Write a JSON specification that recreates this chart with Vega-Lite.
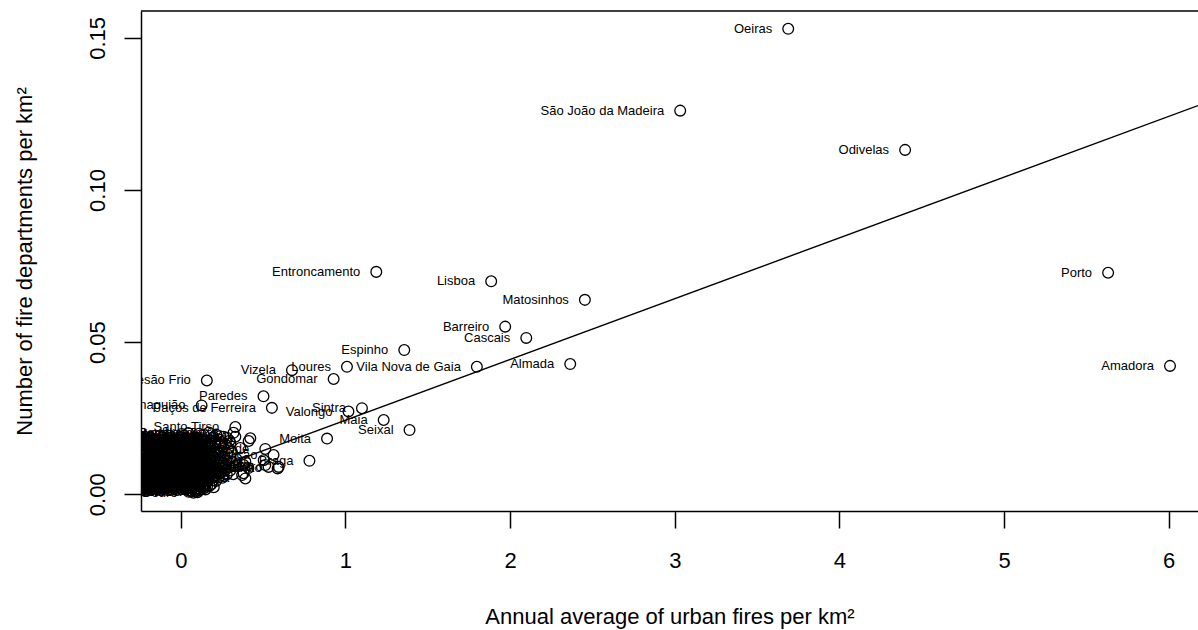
{
  "$schema": "https://vega.github.io/schema/vega-lite/v6.json",
  "width": 1057,
  "height": 500,
  "autosize": "none",
  "padding": {"left": 141, "top": 11, "right": 0, "bottom": 119},
  "background": "white",
  "config": {
    "view": {"stroke": null},
    "font": "Liberation Sans",
    "axis": {
      "grid": false,
      "domainColor": "black",
      "domainWidth": 1.5,
      "tickColor": "black",
      "tickWidth": 1.5,
      "tickSize": 17,
      "labelFont": "Liberation Sans",
      "labelFontSize": 22,
      "labelColor": "black",
      "titleFont": "Liberation Sans",
      "titleFontSize": 22,
      "titleFontWeight": "normal",
      "titleColor": "black"
    }
  },
  "datasets": {
    "munis": [
      {"m": "Oeiras", "x": 3.689, "y": 0.1530},
      {"m": "São João da Madeira", "x": 3.033, "y": 0.1261},
      {"m": "Odivelas", "x": 4.399, "y": 0.1132},
      {"m": "Porto", "x": 5.632, "y": 0.0728},
      {"m": "Amadora", "x": 6.008, "y": 0.0422},
      {"m": "Entroncamento", "x": 1.187, "y": 0.0731},
      {"m": "Lisboa", "x": 1.885, "y": 0.0700},
      {"m": "Matosinhos", "x": 2.454, "y": 0.0639},
      {"m": "Barreiro", "x": 1.970, "y": 0.0551},
      {"m": "Cascais", "x": 2.098, "y": 0.0514},
      {"m": "Espinho", "x": 1.357, "y": 0.0474},
      {"m": "Almada", "x": 2.365, "y": 0.0428},
      {"m": "Vila Nova de Gaia", "x": 1.798, "y": 0.0419},
      {"m": "Loures", "x": 1.009, "y": 0.0419},
      {"m": "Gondomar", "x": 0.928, "y": 0.0379},
      {"m": "Vizela", "x": 0.675, "y": 0.0408},
      {"m": "Mesão Frio", "x": 0.158, "y": 0.0374},
      {"m": "Paredes", "x": 0.502, "y": 0.0322},
      {"m": "Paços de Ferreira", "x": 0.553, "y": 0.0284},
      {"m": "Valongo", "x": 1.018, "y": 0.0272},
      {"m": "Sintra", "x": 1.100, "y": 0.0283},
      {"m": "Maia", "x": 1.232, "y": 0.0244},
      {"m": "Seixal", "x": 1.389, "y": 0.0211},
      {"m": "Moita", "x": 0.888, "y": 0.0183},
      {"m": "Braga", "x": 0.781, "y": 0.0110},
      {"m": "Santo Tirso", "x": 0.331, "y": 0.0221},
      {"m": "Santa Marta de Penaguião", "x": 0.126, "y": 0.0292},
      {"m": "Trofa", "x": 0.320, "y": 0.0202},
      {"m": "Póvoa de Varzim", "x": 0.412, "y": 0.0175},
      {"m": "Vila do Conde", "x": 0.513, "y": 0.0149},
      {"m": "Vila Nova de Famalicão", "x": 0.563, "y": 0.0129},
      {"m": "Guimarães", "x": 0.361, "y": 0.0152},
      {"m": "Felgueiras", "x": 0.392, "y": 0.0107},
      {"m": "Lousada", "x": 0.381, "y": 0.0096},
      {"m": "Vila Franca de Xira", "x": 0.410, "y": 0.0086},
      {"m": "Setúbal", "x": 0.381, "y": 0.0069},
      {"m": "Coimbra", "x": 0.392, "y": 0.0052},
      {"m": "Aveiro", "x": 0.372, "y": 0.0063},
      {"m": "Ovar", "x": 0.503, "y": 0.0112},
      {"m": "Montijo", "x": 0.513, "y": 0.0096},
      {"m": "Ílhavo", "x": 0.533, "y": 0.0090},
      {"m": "Faro", "x": 0.594, "y": 0.0090},
      {"m": "Olhão", "x": 0.588, "y": 0.0085},
      {"m": "Penafiel", "x": 0.260, "y": 0.0189},
      {"m": "Santa Maria da Feira", "x": 0.331, "y": 0.0189},
      {"m": "Oliveira de Azeméis", "x": 0.301, "y": 0.0168},
      {"m": "Marinha Grande", "x": 0.422, "y": 0.0184},
      {"m": "Abrantes", "x": 0.021, "y": 0.0192},
      {"m": "Águeda", "x": 0.083, "y": 0.0188},
      {"m": "Aguiar da Beira", "x": 0.138, "y": 0.0195},
      {"m": "Alandroal", "x": 0.192, "y": 0.0186},
      {"m": "Albergaria-a-Velha", "x": 0.238, "y": 0.0191},
      {"m": "Albufeira", "x": 0.012, "y": 0.0171},
      {"m": "Alcácer do Sal", "x": 0.052, "y": 0.0168},
      {"m": "Alcanena", "x": 0.098, "y": 0.0174},
      {"m": "Alcobaça", "x": 0.161, "y": 0.0169},
      {"m": "Alcochete", "x": 0.208, "y": 0.0172},
      {"m": "Alcoutim", "x": 0.268, "y": 0.0165},
      {"m": "Alenquer", "x": 0.296, "y": 0.0176},
      {"m": "Alfândega da Fé", "x": 0.004, "y": 0.0152},
      {"m": "Alijó", "x": 0.041, "y": 0.0148},
      {"m": "Aljezur", "x": 0.072, "y": 0.0155},
      {"m": "Aljustrel", "x": 0.118, "y": 0.0149},
      {"m": "Almeida", "x": 0.172, "y": 0.0153},
      {"m": "Almeirim", "x": 0.219, "y": 0.0147},
      {"m": "Almodôvar", "x": 0.257, "y": 0.0156},
      {"m": "Alpiarça", "x": 0.289, "y": 0.0151},
      {"m": "Alter do Chão", "x": 0.018, "y": 0.0136},
      {"m": "Alvaiázere", "x": 0.061, "y": 0.0133},
      {"m": "Alvito", "x": 0.093, "y": 0.0138},
      {"m": "Amarante", "x": 0.131, "y": 0.0131},
      {"m": "Amares", "x": 0.183, "y": 0.0137},
      {"m": "Anadia", "x": 0.227, "y": 0.0134},
      {"m": "Ansião", "x": 0.281, "y": 0.0132},
      {"m": "Arcos de Valdevez", "x": 0.003, "y": 0.0121},
      {"m": "Arganil", "x": 0.029, "y": 0.0118},
      {"m": "Armamar", "x": 0.053, "y": 0.0124},
      {"m": "Arouca", "x": 0.081, "y": 0.0119},
      {"m": "Arraiolos", "x": 0.109, "y": 0.0122},
      {"m": "Arronches", "x": 0.149, "y": 0.0117},
      {"m": "Arruda dos Vinhos", "x": 0.191, "y": 0.0123},
      {"m": "Avis", "x": 0.243, "y": 0.0119},
      {"m": "Azambuja", "x": 0.302, "y": 0.0121},
      {"m": "Baião", "x": 0.338, "y": 0.0116},
      {"m": "Barcelos", "x": 0.011, "y": 0.0106},
      {"m": "Barrancos", "x": 0.038, "y": 0.0103},
      {"m": "Batalha", "x": 0.064, "y": 0.0108},
      {"m": "Beja", "x": 0.088, "y": 0.0104},
      {"m": "Belmonte", "x": 0.122, "y": 0.0101},
      {"m": "Benavente", "x": 0.158, "y": 0.0107},
      {"m": "Bombarral", "x": 0.203, "y": 0.0104},
      {"m": "Borba", "x": 0.259, "y": 0.0102},
      {"m": "Boticas", "x": 0.312, "y": 0.0106},
      {"m": "Bragança", "x": 0.002, "y": 0.0091},
      {"m": "Cabeceiras de Basto", "x": 0.022, "y": 0.0088},
      {"m": "Cadaval", "x": 0.048, "y": 0.0093},
      {"m": "Caldas da Rainha", "x": 0.071, "y": 0.0089},
      {"m": "Caminha", "x": 0.101, "y": 0.0092},
      {"m": "Campo Maior", "x": 0.133, "y": 0.0087},
      {"m": "Cantanhede", "x": 0.168, "y": 0.0091},
      {"m": "Carrazeda de Ansiães", "x": 0.211, "y": 0.0088},
      {"m": "Carregal do Sal", "x": 0.248, "y": 0.0093},
      {"m": "Cartaxo", "x": 0.291, "y": 0.0089},
      {"m": "Castanheira de Pêra", "x": 0.329, "y": 0.0092},
      {"m": "Castelo Branco", "x": 0.009, "y": 0.0079},
      {"m": "Castelo de Paiva", "x": 0.033, "y": 0.0076},
      {"m": "Castelo de Vide", "x": 0.058, "y": 0.0081},
      {"m": "Castro Daire", "x": 0.082, "y": 0.0077},
      {"m": "Castro Marim", "x": 0.113, "y": 0.0080},
      {"m": "Castro Verde", "x": 0.142, "y": 0.0075},
      {"m": "Celorico da Beira", "x": 0.179, "y": 0.0079},
      {"m": "Celorico de Basto", "x": 0.222, "y": 0.0077},
      {"m": "Chamusca", "x": 0.271, "y": 0.0080},
      {"m": "Chaves", "x": 0.001, "y": 0.0067},
      {"m": "Cinfães", "x": 0.019, "y": 0.0064},
      {"m": "Condeixa-a-Nova", "x": 0.043, "y": 0.0068},
      {"m": "Constância", "x": 0.068, "y": 0.0065},
      {"m": "Coruche", "x": 0.091, "y": 0.0069},
      {"m": "Covilhã", "x": 0.119, "y": 0.0063},
      {"m": "Crato", "x": 0.151, "y": 0.0067},
      {"m": "Cuba", "x": 0.188, "y": 0.0064},
      {"m": "Elvas", "x": 0.231, "y": 0.0068},
      {"m": "Esposende", "x": 0.279, "y": 0.0065},
      {"m": "Estarreja", "x": 0.318, "y": 0.0066},
      {"m": "Estremoz", "x": 0.012, "y": 0.0056},
      {"m": "Évora", "x": 0.031, "y": 0.0053},
      {"m": "Fafe", "x": 0.054, "y": 0.0057},
      {"m": "Ferreira do Alentejo", "x": 0.078, "y": 0.0054},
      {"m": "Ferreira do Zêzere", "x": 0.103, "y": 0.0056},
      {"m": "Figueira da Foz", "x": 0.128, "y": 0.0052},
      {"m": "Figueira de Castelo Rodrigo", "x": 0.162, "y": 0.0055},
      {"m": "Figueiró dos Vinhos", "x": 0.199, "y": 0.0057},
      {"m": "Fornos de Algodres", "x": 0.252, "y": 0.0054},
      {"m": "Freixo de Espada à Cinta", "x": 0.003, "y": 0.0046},
      {"m": "Fronteira", "x": 0.024, "y": 0.0043},
      {"m": "Fundão", "x": 0.042, "y": 0.0047},
      {"m": "Gavião", "x": 0.063, "y": 0.0044},
      {"m": "Góis", "x": 0.087, "y": 0.0046},
      {"m": "Golegã", "x": 0.112, "y": 0.0042},
      {"m": "Gouveia", "x": 0.139, "y": 0.0045},
      {"m": "Grândola", "x": 0.171, "y": 0.0047},
      {"m": "Guarda", "x": 0.214, "y": 0.0044},
      {"m": "Idanha-a-Nova", "x": 0.011, "y": 0.0036},
      {"m": "Lagoa", "x": 0.028, "y": 0.0033},
      {"m": "Lagos", "x": 0.051, "y": 0.0037},
      {"m": "Lamego", "x": 0.073, "y": 0.0034},
      {"m": "Leiria", "x": 0.096, "y": 0.0036},
      {"m": "Loulé", "x": 0.121, "y": 0.0032},
      {"m": "Lourinhã", "x": 0.152, "y": 0.0035},
      {"m": "Lousã", "x": 0.187, "y": 0.0034},
      {"m": "Mação", "x": 0.019, "y": 0.0026},
      {"m": "Macedo de Cavaleiros", "x": 0.039, "y": 0.0024},
      {"m": "Mafra", "x": 0.061, "y": 0.0027},
      {"m": "Mangualde", "x": 0.083, "y": 0.0023},
      {"m": "Manteigas", "x": 0.107, "y": 0.0026},
      {"m": "Marco de Canaveses", "x": 0.131, "y": 0.0024},
      {"m": "Marvão", "x": 0.159, "y": 0.0025},
      {"m": "Mealhada", "x": 0.029, "y": 0.0016},
      {"m": "Mêda", "x": 0.049, "y": 0.0013},
      {"m": "Melgaço", "x": 0.071, "y": 0.0017},
      {"m": "Mértola", "x": 0.092, "y": 0.0014},
      {"m": "Mira", "x": 0.118, "y": 0.0016},
      {"m": "Miranda do Corvo", "x": 0.048, "y": 0.0008},
      {"m": "Miranda do Douro", "x": 0.077, "y": 0.0005},
      {"m": "Mirandela", "x": 0.101, "y": 0.0007},
      {"m": "Mogadouro", "x": 0.015, "y": 0.0050},
      {"m": "Moimenta da Beira", "x": 0.035, "y": 0.0061},
      {"m": "Monchique", "x": 0.057, "y": 0.0071},
      {"m": "Mondim de Basto", "x": 0.076, "y": 0.0058},
      {"m": "Monforte", "x": 0.095, "y": 0.0049},
      {"m": "Montalegre", "x": 0.026, "y": 0.0084},
      {"m": "Montemor-o-Novo", "x": 0.047, "y": 0.0039},
      {"m": "Montemor-o-Velho", "x": 0.066, "y": 0.0031},
      {"m": "Mora", "x": 0.085, "y": 0.0083},
      {"m": "Mortágua", "x": 0.105, "y": 0.0072},
      {"m": "Moura", "x": 0.125, "y": 0.0058},
      {"m": "Mourão", "x": 0.145, "y": 0.0052},
      {"m": "Murça", "x": 0.006, "y": 0.0072},
      {"m": "Murtosa", "x": 0.037, "y": 0.0097},
      {"m": "Nazaré", "x": 0.059, "y": 0.0111},
      {"m": "Nelas", "x": 0.079, "y": 0.0101},
      {"m": "Nisa", "x": 0.115, "y": 0.0094},
      {"m": "Óbidos", "x": 0.136, "y": 0.0079},
      {"m": "Odemira", "x": 0.155, "y": 0.0097},
      {"m": "Oleiros", "x": 0.175, "y": 0.0069},
      {"m": "Oliveira de Frades", "x": 0.195, "y": 0.0082},
      {"m": "Oliveira do Bairro", "x": 0.016, "y": 0.0029},
      {"m": "Oliveira do Hospital", "x": 0.056, "y": 0.0021},
      {"m": "Ourém", "x": 0.086, "y": 0.0029},
      {"m": "Ourique", "x": 0.124, "y": 0.0037},
      {"m": "Pampilhosa da Serra", "x": 0.148, "y": 0.0029},
      {"m": "Paredes de Coura", "x": 0.013, "y": 0.0128},
      {"m": "Pedrógão Grande", "x": 0.045, "y": 0.0141},
      {"m": "Penacova", "x": 0.075, "y": 0.0127},
      {"m": "Penalva do Castelo", "x": 0.099, "y": 0.0113},
      {"m": "Penamacor", "x": 0.139, "y": 0.0125},
      {"m": "Penedono", "x": 0.177, "y": 0.0113},
      {"m": "Penela", "x": 0.237, "y": 0.0105},
      {"m": "Peniche", "x": 0.205, "y": 0.0141},
      {"m": "Peso da Régua", "x": 0.166, "y": 0.0160},
      {"m": "Pinhel", "x": 0.125, "y": 0.0176},
      {"m": "Pombal", "x": 0.068, "y": 0.0181},
      {"m": "Ponte da Barca", "x": 0.034, "y": 0.0160},
      {"m": "Ponte de Lima", "x": 0.245, "y": 0.0073},
      {"m": "Ponte de Sor", "x": 0.228, "y": 0.0055},
      {"m": "Portalegre", "x": 0.005, "y": 0.0198},
      {"m": "Portel", "x": 0.045, "y": 0.0201},
      {"m": "Porto de Mós", "x": 0.110, "y": 0.0199},
      {"m": "Póvoa de Lanhoso", "x": 0.170, "y": 0.0203},
      {"m": "Proença-a-Nova", "x": 0.215, "y": 0.0196},
      {"m": "Redondo", "x": 0.030, "y": 0.0183},
      {"m": "Reguengos de Monsaraz", "x": 0.120, "y": 0.0185},
      {"m": "Resende", "x": 0.230, "y": 0.0180},
      {"m": "Ribeira de Pena", "x": 0.280, "y": 0.0186},
      {"m": "Rio Maior", "x": 0.060, "y": 0.0162},
      {"m": "Sabrosa", "x": 0.140, "y": 0.0165},
      {"m": "Sabugal", "x": 0.190, "y": 0.0158},
      {"m": "Salvaterra de Magos", "x": 0.240, "y": 0.0161},
      {"m": "Santa Comba Dão", "x": 0.025, "y": 0.0143},
      {"m": "Santarém", "x": 0.100, "y": 0.0145},
      {"m": "Santiago do Cacém", "x": 0.150, "y": 0.0140},
      {"m": "São Brás de Alportel", "x": 0.245, "y": 0.0143},
      {"m": "São João da Pesqueira", "x": 0.310, "y": 0.0139},
      {"m": "São Pedro do Sul", "x": 0.040, "y": 0.0128},
      {"m": "Sardoal", "x": 0.115, "y": 0.0130},
      {"m": "Sátão", "x": 0.160, "y": 0.0127},
      {"m": "Seia", "x": 0.210, "y": 0.0128},
      {"m": "Serpa", "x": 0.265, "y": 0.0125},
      {"m": "Sernancelhe", "x": 0.020, "y": 0.0113},
      {"m": "Sertã", "x": 0.135, "y": 0.0112},
      {"m": "Sesimbra", "x": 0.225, "y": 0.0115},
      {"m": "Sever do Vouga", "x": 0.285, "y": 0.0111},
      {"m": "Silves", "x": 0.012, "y": 0.0098},
      {"m": "Sines", "x": 0.055, "y": 0.0100},
      {"m": "Sobral de Monte Agraço", "x": 0.095, "y": 0.0097},
      {"m": "Soure", "x": 0.185, "y": 0.0099},
      {"m": "Sousel", "x": 0.230, "y": 0.0096},
      {"m": "Tábua", "x": 0.275, "y": 0.0098},
      {"m": "Tabuaço", "x": 0.040, "y": 0.0085},
      {"m": "Tarouca", "x": 0.120, "y": 0.0085},
      {"m": "Tavira", "x": 0.160, "y": 0.0083},
      {"m": "Terras de Bouro", "x": 0.200, "y": 0.0072},
      {"m": "Tomar", "x": 0.255, "y": 0.0085},
      {"m": "Tondela", "x": 0.300, "y": 0.0078},
      {"m": "Torre de Moncorvo", "x": 0.010, "y": 0.0061},
      {"m": "Torres Novas", "x": 0.050, "y": 0.0063},
      {"m": "Torres Vedras", "x": 0.080, "y": 0.0066},
      {"m": "Trancoso", "x": 0.135, "y": 0.0060},
      {"m": "Vagos", "x": 0.170, "y": 0.0060},
      {"m": "Vale de Cambra", "x": 0.210, "y": 0.0062},
      {"m": "Valença", "x": 0.260, "y": 0.0060},
      {"m": "Valpaços", "x": 0.020, "y": 0.0040},
      {"m": "Vendas Novas", "x": 0.070, "y": 0.0050},
      {"m": "Viana do Alentejo", "x": 0.100, "y": 0.0041},
      {"m": "Viana do Castelo", "x": 0.130, "y": 0.0046},
      {"m": "Vidigueira", "x": 0.160, "y": 0.0041},
      {"m": "Vieira do Minho", "x": 0.195, "y": 0.0046},
      {"m": "Vila de Rei", "x": 0.035, "y": 0.0020},
      {"m": "Vila do Bispo", "x": 0.070, "y": 0.0022},
      {"m": "Vila Flor", "x": 0.095, "y": 0.0019},
      {"m": "Vila Nova da Barquinha", "x": 0.115, "y": 0.0028},
      {"m": "Vila Nova de Cerveira", "x": 0.140, "y": 0.0020},
      {"m": "Vila Nova de Foz Côa", "x": 0.175, "y": 0.0028},
      {"m": "Vila Nova de Paiva", "x": 0.060, "y": 0.0010},
      {"m": "Vila Nova de Poiares", "x": 0.088, "y": 0.0009},
      {"m": "Vila Pouca de Aguiar", "x": 0.040, "y": 0.0030},
      {"m": "Vila Real", "x": 0.110, "y": 0.0012},
      {"m": "Vila Real de Santo António", "x": 0.008, "y": 0.0017},
      {"m": "Vila Velha de Ródão", "x": 0.003, "y": 0.0030},
      {"m": "Vila Verde", "x": 0.150, "y": 0.0016},
      {"m": "Vila Viçosa", "x": 0.200, "y": 0.0023},
      {"m": "Vimioso", "x": 0.022, "y": 0.0175},
      {"m": "Vinhais", "x": 0.008, "y": 0.0158},
      {"m": "Viseu", "x": 0.180, "y": 0.0176},
      {"m": "Vouzela", "x": 0.105, "y": 0.0157},
      {"m": "Palmela", "x": 0.250, "y": 0.0171},
      {"m": "Portimão", "x": 0.199, "y": 0.0188}
    ],
    "fit": [
      {"x": -0.242, "y": -0.00043},
      {"x": 6.178, "y": 0.12777}
    ]
  },
  "layer": [
    {
      "data": {"name": "munis"},
      "mark": {"type": "point", "shape": "circle", "filled": false, "stroke": "black", "strokeWidth": 1.3, "size": 115, "opacity": 1, "clip": true},
      "encoding": {
        "x": {
          "field": "x", "type": "quantitative",
          "scale": {"domain": [-0.242, 6.178], "nice": false, "zero": false},
          "axis": {"values": [0, 1, 2, 3, 4, 5, 6], "format": "d", "labelPadding": 22, "titlePadding": 35,
                   "title": "Annual average of urban fires per km²"}
        },
        "y": {
          "field": "y", "type": "quantitative",
          "scale": {"domain": [-0.0055, 0.15885], "nice": false, "zero": false},
          "axis": {"values": [0, 0.05, 0.1, 0.15], "format": ".2f", "labelAngle": -90, "labelAlign": "center",
                   "labelBaseline": "bottom", "labelPadding": 15, "titlePadding": 50,
                   "title": "Number of fire departments per km²"}
        }
      }
    },
    {
      "data": {"name": "munis"},
      "mark": {"type": "text", "align": "right", "baseline": "middle", "dx": -16, "fontSize": 13, "font": "Liberation Sans", "color": "black", "clip": true},
      "encoding": {
        "x": {"field": "x", "type": "quantitative"},
        "y": {"field": "y", "type": "quantitative"},
        "text": {"field": "m"}
      }
    },
    {
      "data": {"name": "fit"},
      "mark": {"type": "line", "color": "black", "strokeWidth": 1.4, "clip": true},
      "encoding": {
        "x": {"field": "x", "type": "quantitative"},
        "y": {"field": "y", "type": "quantitative"}
      }
    },
    {
      "data": {"values": [{}]},
      "mark": {"type": "rule", "color": "black", "strokeWidth": 1.5},
      "encoding": {
        "y": {"datum": 0.15885, "type": "quantitative"}
      }
    }
  ]
}
